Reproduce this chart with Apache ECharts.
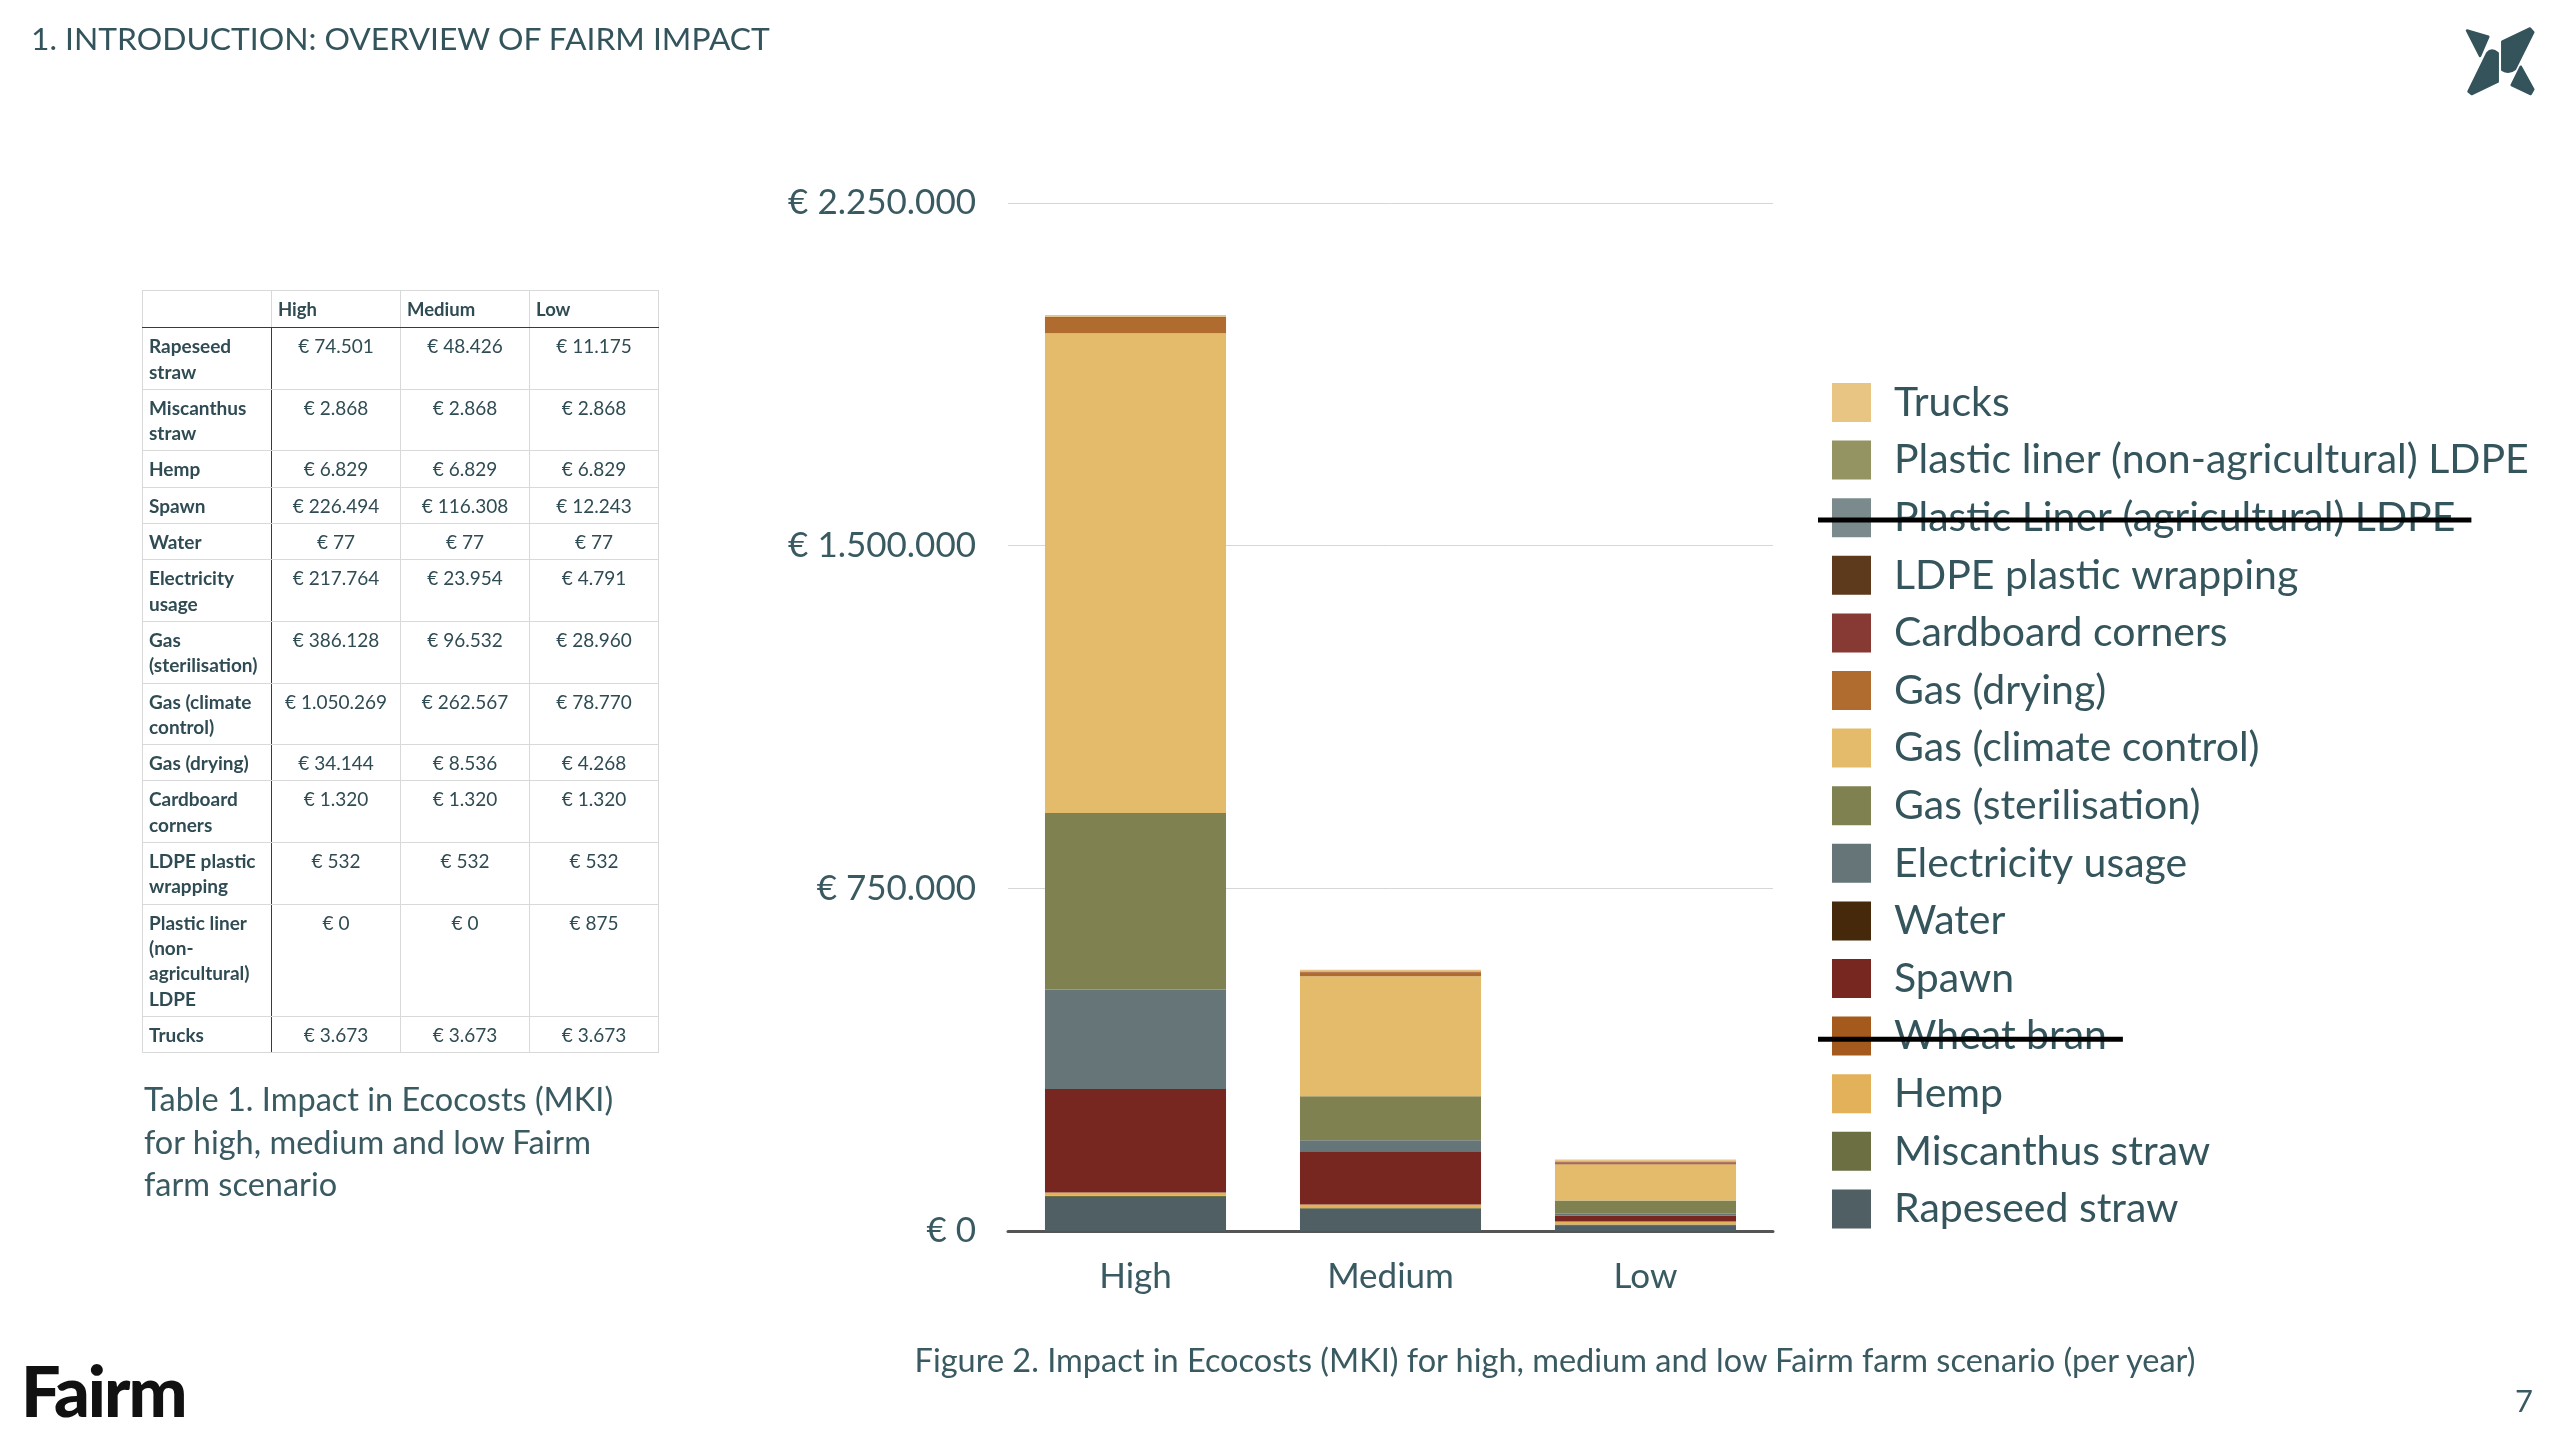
<!DOCTYPE html>
<html>
<head>
<meta charset="utf-8">
<script src="https://cdn.jsdelivr.net/npm/echarts@6/dist/echarts.min.js"></script>
<style>
  html, body { margin: 0; padding: 0; background: #fff; }
  #page { position: relative; width: 2560px; height: 1440px; overflow: hidden; background: #fff; font-family: Lato, "Noto Sans", sans-serif; color: #34545c; }
  #chart { position: absolute; left: 0; top: 0; width: 2560px; height: 1440px; }
  .abs { position: absolute; white-space: nowrap; }
  #title { left: 31px; top: 19px; font-size: 31.8px; line-height: 38px; color: #34545c; }
  #tbl { position: absolute; left: 142px; top: 290px; width: 516px; border-collapse: collapse; table-layout: fixed; color: #2f4b53; }
  #tbl th, #tbl td { border: 1px solid #d9d9d9; vertical-align: top; }
  #tbl th { font-weight: 700; font-size: 18.5px; line-height: 25.3px; text-align: left; padding: 6px 4px 5px 6px; border-bottom: 1.5px solid #3a3a3a; }
  #tbl td { font-size: 19px; line-height: 25.3px; padding: 5px 4px 5px 6px; }
  #tbl td.lab { font-weight: 700; border-right: 1.5px solid #3a3a3a; }
  #tbl td.val { text-align: center; font-weight: 400; padding-left: 2px; padding-right: 2px; }
  #tcap { left: 144px; top: 1078px; font-size: 32.5px; line-height: 42.5px; color: #3a5a62; }
  #fcap { left: 0; width: 3110px; top: 1341px; text-align: center; font-size: 32.5px; line-height: 38px; color: #3a5a62; }
  #pnum { left: 2515px; top: 1381px; font-size: 31px; line-height: 38px; color: #3a5a62; }
  #brand { left: 21px; top: 1350px; font-size: 70px; line-height: 80px; font-weight: 900; color: #111; letter-spacing: -2px; }
  #logo { position: absolute; left: 2400px; top: 0; width: 160px; height: 120px; }
</style>
</head>
<body>
<div id="page">
  <div id="chart"></div>
  <div id="title" class="abs">1. INTRODUCTION: OVERVIEW OF FAIRM IMPACT</div>
  <svg id="logo" viewBox="0 0 160 120">
    <g fill="#34535b" stroke="#34535b" stroke-width="2.5" stroke-linejoin="round">
      <path d="M67,30.5 L88.3,36.7 L80,56 Z"/>
      <path d="M68.5,91.5 L87.3,53 Q91.7,48 97.7,53.3 L97.7,81.7 L71.7,94 Z"/>
      <path d="M102.3,41.7 L130,28.5 L133.3,32.3 L115,69 Q109,74 102.3,70 Z"/>
      <path d="M111.7,85 L120.7,66.7 L133.3,89.3 L130.7,94 Z"/>
    </g>
  </svg>
  <table id="tbl"></table>
  <div id="tcap" class="abs">Table 1. Impact in Ecocosts (MKI)<br>for high, medium and low Fairm<br>farm scenario</div>
  <div id="fcap" class="abs">Figure 2. Impact in Ecocosts (MKI) for high, medium and low Fairm farm scenario (per year)</div>
  <div id="pnum" class="abs">7</div>
  <div id="brand" class="abs">Fairm</div>
</div>
<script>
// ---------- DATA ----------
const categories = ['High', 'Medium', 'Low'];
const rapeseedStraw        = [74501, 48426, 11175];
const miscanthusStraw      = [2868, 2868, 2868];
const hemp                 = [6829, 6829, 6829];
const wheatBran            = [0, 0, 0];
const spawn                = [226494, 116308, 12243];
const water                = [77, 77, 77];
const electricityUsage     = [217764, 23954, 4791];
const gasSterilisation     = [386128, 96532, 28960];
const gasClimateControl    = [1050269, 262567, 78770];
const gasDrying            = [34144, 8536, 4268];
const cardboardCorners     = [1320, 1320, 1320];
const ldpeWrapping         = [532, 532, 532];
const linerAgricultural    = [0, 0, 0];
const linerNonAgricultural = [0, 0, 875];
const trucks               = [3673, 3673, 3673];
const yTicks = [0, 750000, 1500000, 2250000];
const struckOut = ['Plastic Liner (agricultural) LDPE', 'Wheat bran'];

// stack order, bottom to top
const seriesDefs = [
  { name: 'Rapeseed straw', color: '#4f5f63', data: rapeseedStraw, table: 'Rapeseed straw' },
  { name: 'Miscanthus straw', color: '#6b6f42', data: miscanthusStraw, table: 'Miscanthus straw' },
  { name: 'Hemp', color: '#e2b15a', data: hemp, table: 'Hemp' },
  { name: 'Wheat bran', color: '#a45a1c', data: wheatBran },
  { name: 'Spawn', color: '#77271f', data: spawn, table: 'Spawn' },
  { name: 'Water', color: '#45290a', data: water, table: 'Water' },
  { name: 'Electricity usage', color: '#657578', data: electricityUsage, table: 'Electricity usage' },
  { name: 'Gas (sterilisation)', color: '#7f8150', data: gasSterilisation, table: 'Gas (sterilisation)' },
  { name: 'Gas (climate control)', color: '#e3bb6b', data: gasClimateControl, table: 'Gas (climate control)' },
  { name: 'Gas (drying)', color: '#b06c2e', data: gasDrying, table: 'Gas (drying)' },
  { name: 'Cardboard corners', color: '#873a33', data: cardboardCorners, table: 'Cardboard corners' },
  { name: 'LDPE plastic wrapping', color: '#5c3a1b', data: ldpeWrapping, table: 'LDPE plastic wrapping' },
  { name: 'Plastic Liner (agricultural) LDPE', color: '#7b8a8c', data: linerAgricultural },
  { name: 'Plastic liner (non-agricultural) LDPE', color: '#939462', data: linerNonAgricultural, table: 'Plastic liner (non-agricultural) LDPE' },
  { name: 'Trucks', color: '#e8c582', data: trucks, table: 'Trucks' }
];

function euro(v) {
  return '€ ' + String(v).replace(/\B(?=(\d{3})+(?!\d))/g, '.');
}

// ---------- TABLE ----------
(function buildTable() {
  const t = document.getElementById('tbl');
  let html = '<colgroup><col style="width:129px"><col style="width:129px"><col style="width:129px"><col style="width:129px"></colgroup>';
  html += '<tr><th></th>' + categories.map(c => '<th>' + c + '</th>').join('') + '</tr>';
  seriesDefs.filter(s => s.table).forEach(s => {
    html += '<tr><td class="lab">' + s.table + '</td>' + s.data.map(v => '<td class="val">' + euro(v) + '</td>').join('') + '</tr>';
  });
  t.innerHTML = html;
})();

// ---------- CHART ----------
const chart = echarts.init(document.getElementById('chart'), null, { renderer: 'canvas' });

const legendLeft = 1832, legendTop = 382, itemW = 39, itemH = 39, pitch = 57.7, textPad = 18;
const legendFont = 41;
const itemBox = 41.1;               // measured rendered height of one legend item
const itemGap = pitch - itemBox;
const legendNames = seriesDefs.map(s => s.name).reverse();

function measure(text) {
  const c = document.createElement('canvas').getContext('2d');
  c.font = legendFont + 'px Lato';
  return c.measureText(text).width;
}

const strikeGraphics = struckOut.map(name => {
  const idx = legendNames.indexOf(name);
  const y = legendTop + idx * pitch + itemH / 2 + 3;
  const textStart = legendLeft + itemW + 5 + textPad;
  return {
    type: 'line', z: 100,
    shape: { x1: legendLeft - 14, y1: y, x2: textStart + measure(name) + 16, y2: y },
    style: { stroke: '#000', lineWidth: 5 }
  };
});

chart.setOption({
  animation: false,
  backgroundColor: 'transparent',
  textStyle: { fontFamily: 'Lato, "Noto Sans", sans-serif' },
  grid: { left: 1008, right: 787, top: 203, bottom: 209, containLabel: false },
  legend: {
    orient: 'vertical',
    left: legendLeft, top: legendTop,
    padding: 0,
    itemWidth: itemW, itemHeight: itemH, itemGap: itemGap,
    icon: 'rect',
    selectedMode: false,
    data: legendNames,
    textStyle: { fontSize: legendFont, lineHeight: itemH - 6, color: '#35555d', fontFamily: 'Lato', padding: [6, 0, 0, textPad] }
  },
  xAxis: {
    type: 'category',
    data: categories,
    axisTick: { show: false },
    axisLine: { lineStyle: { color: '#555', width: 3 } },
    axisLabel: { fontSize: 35, color: '#3a5a62', margin: 28, fontFamily: 'Lato' }
  },
  yAxis: {
    type: 'value',
    min: yTicks[0], max: yTicks[yTicks.length - 1], interval: yTicks[1] - yTicks[0],
    axisLine: { show: false },
    axisTick: { show: false },
    splitLine: { lineStyle: { color: '#d6d6d6', width: 1 } },
    axisLabel: { fontSize: 35, color: '#3a5a62', margin: 32, fontFamily: 'Lato', formatter: v => euro(v) }
  },
  graphic: strikeGraphics,
  series: seriesDefs.map(s => ({
    name: s.name,
    type: 'bar',
    stack: 'total',
    barWidth: '71%',
    data: s.data,
    itemStyle: { color: s.color },
    emphasis: { disabled: true }
  }))
});
</script>
</body>
</html>
